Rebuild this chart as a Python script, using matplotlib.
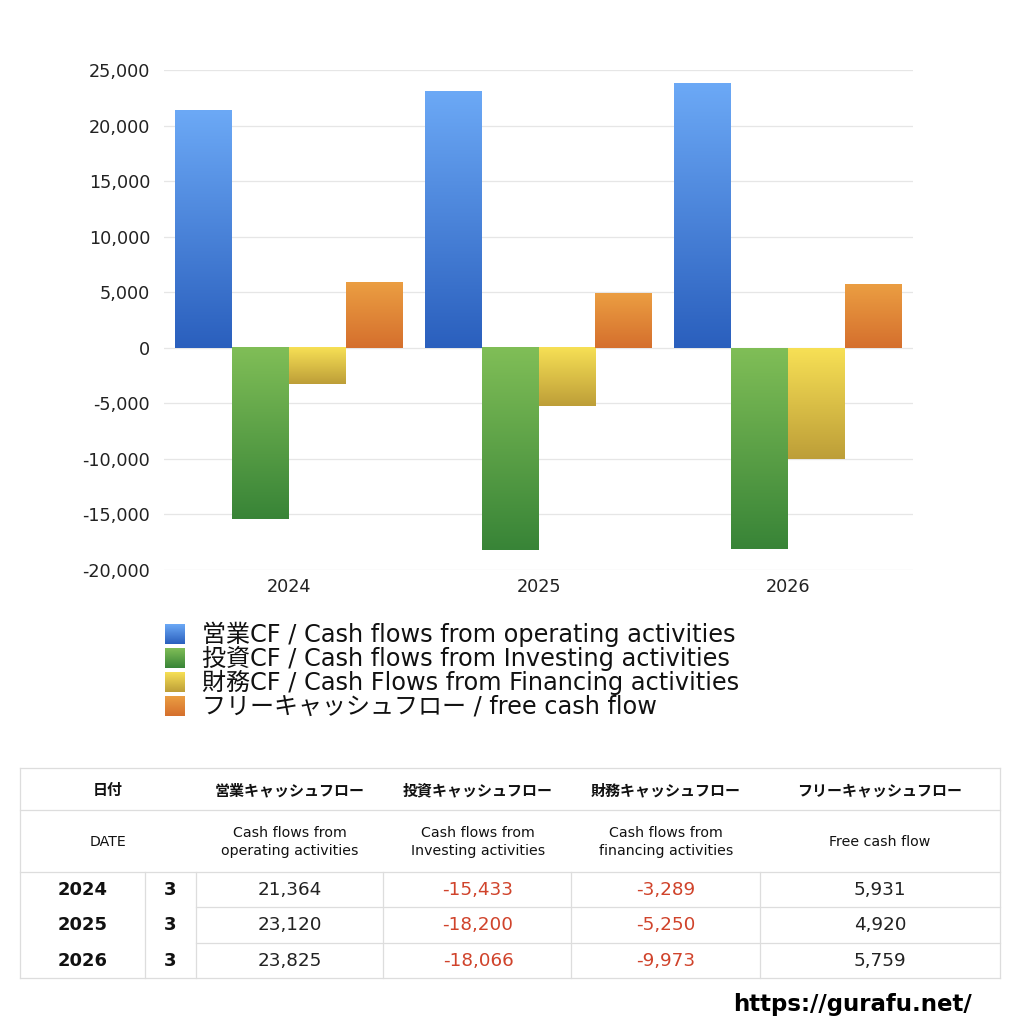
import matplotlib
matplotlib.use('Agg')
import matplotlib.pyplot as plt
from matplotlib.colors import LinearSegmentedColormap
from matplotlib.ticker import FuncFormatter
import numpy as np

plt.rcParams['font.family'] = ['DejaVu Sans', 'Noto Sans CJK JP']
jp = ['Noto Sans CJK JP', 'DejaVu Sans']

# data
years = ['2024', '2025', '2026']
months = ['3', '3', '3']
operating = [21364, 23120, 23825]
investing = [-15433, -18200, -18066]
financing = [-3289, -5250, -9973]
free_cf = [5931, 4920, 5759]

legend_labels = ['営業CF / Cash flows from operating activities',
                 '投資CF / Cash flows from Investing activities',
                 '財務CF / Cash Flows from Financing activities',
                 'フリーキャッシュフロー / free cash flow']
head_jp = ['日付', '営業キャッシュフロー', '投資キャッシュフロー', '財務キャッシュフロー', 'フリーキャッシュフロー']
head_en = ['DATE', 'Cash flows from\noperating activities', 'Cash flows from\nInvesting activities',
           'Cash flows from\nfinancing activities', 'Free cash flow']

# gradient colours (top, bottom)
grads = [('#6CA9F6', '#2A5FBD'), ('#80BE57', '#388437'),
         ('#F7E055', '#BD9E38'), ('#EB9E42', '#D56F2D')]
cmaps = [LinearSegmentedColormap.from_list('g%d' % i, [b, t]) for i, (t, b) in enumerate(grads)]
grad = np.linspace(0, 1, 256).reshape(-1, 1)

fig = plt.figure(figsize=(10.24, 10.24), dpi=100)
ax = fig.add_axes([164/1024, 1-570/1024, 749/1024, 500/1024])

series = [operating, investing, financing, free_cf]
x = np.arange(len(years))
w = 0.228
for i, vals in enumerate(series):
    for xi, v in zip(x, vals):
        x0 = xi - 2*w + i*w
        ax.imshow(grad, cmap=cmaps[i], origin='lower', aspect='auto',
                  extent=(x0, x0 + w, min(0, v), max(0, v)), zorder=2)

ax.set_xlim(-0.5, 2.5)
ax.set_ylim(-20000, 25000)
ax.set_yticks(np.arange(-20000, 25001, 5000))
ax.yaxis.set_major_formatter(FuncFormatter(lambda v, p: f'{int(v):,}'))
ax.set_xticks(x)
ax.set_xticklabels(years)
ax.tick_params(length=0, labelsize=12.7, colors='#222222')
ax.tick_params(axis='y', pad=10)
ax.tick_params(axis='x', pad=6)
ax.grid(axis='y', color='#E6E6E6', linewidth=0.9, zorder=0)
for s in ax.spines.values():
    s.set_visible(False)

# legend
for i, lab in enumerate(legend_labels):
    yc = 634 + i*24
    lax = fig.add_axes([165/1024, 1-(yc+10)/1024, 20/1024, 20/1024])
    lax.imshow(grad, cmap=cmaps[i], origin='lower', aspect='auto', extent=(0, 1, 0, 1))
    lax.axis('off')
    fig.text(202/1024, 1-yc/1024, lab, fontsize=17.3, va='center', ha='left', color='#111111')

# table drawn on overlay
tax = fig.add_axes([0, 0, 1, 1], zorder=-1)
tax.set_xlim(0, 1024)
tax.set_ylim(1024, 0)
tax.axis('off')
lc = '#DDDDDD'
L, R = 20, 1000
for yy in [768, 810, 872, 978]:
    tax.plot([L, R], [yy, yy], color=lc, lw=0.9)
for yy in [907, 943]:
    tax.plot([196, R], [yy, yy], color=lc, lw=0.9)
tax.plot([L, L], [768, 978], color=lc, lw=0.9)
tax.plot([R, R], [768, 978], color=lc, lw=0.9)
for xx in [145, 196, 383, 571, 760]:
    tax.plot([xx, xx], [872, 978], color=lc, lw=0.9)

hx = [108, 290, 478, 666, 880]
for j in range(5):
    tax.text(hx[j], 790, head_jp[j], ha='center', va='center', fontsize=10.8, fontweight='bold',
             color='#111111', family=jp)
    tax.text(hx[j], 842, head_en[j], ha='center', va='center', fontsize=10.2, color='#111111',
             linespacing=1.45)

red = '#D0432B'
for r in range(len(years)):
    yc = 890 + r*35.5
    tax.text(83, yc, years[r], ha='center', va='center', fontsize=13, fontweight='bold',
             color='#111111')
    tax.text(170, yc, months[r], ha='center', va='center', fontsize=13, fontweight='bold',
             color='#111111')
    for j, vals in enumerate(series):
        v = vals[r]
        tax.text(hx[j+1], yc, f'{v:,}', ha='center', va='center', fontsize=13.2,
                 color=red if v < 0 else '#222222')

fig.text(972/1024, 1-1004/1024, 'https://gurafu.net/', ha='right', va='center',
         fontsize=16.5, color='#000000', fontweight='bold')

fig.savefig('out.png', dpi=100, facecolor='white')
